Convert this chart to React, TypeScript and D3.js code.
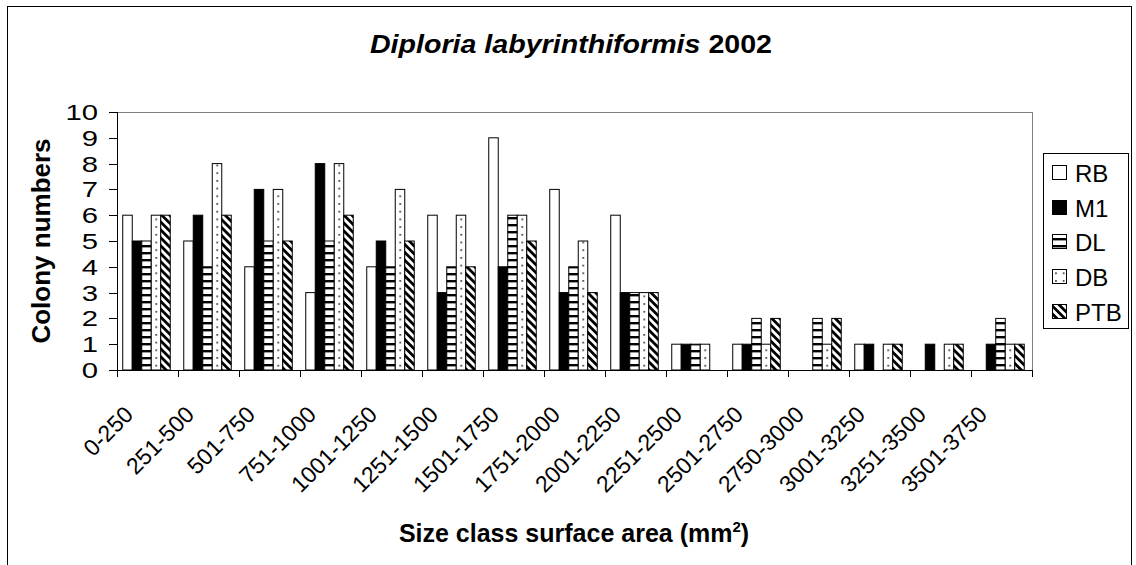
import React from "react";
import * as d3 from "d3";

const categories = ["0-250","251-500","501-750","751-1000","1001-1250","1251-1500","1501-1750","1751-2000","2001-2250","2251-2500","2501-2750","2750-3000","3001-3250","3251-3500","3501-3750"];
const seriesNames = ["RB","M1","DL","DB","PTB"];
const RB = [6,5,4,3,4,6,9,7,6,1,1,0,1,0,0];
const M1 = [5,6,7,8,5,3,4,3,3,1,1,0,1,1,1];
const DL = [5,4,5,5,4,4,6,4,3,1,2,2,0,0,2];
const DB = [6,8,7,8,7,6,6,5,3,1,1,1,1,1,1];
const PTB = [6,6,5,6,5,4,5,3,3,0,2,2,1,1,1];
const yTicks = [0,1,2,3,4,5,6,7,8,9,10];

const seriesValues = [RB, M1, DL, DB, PTB];
const fills = ["#ffffff", "#000000", "url(#pDL)", "url(#pDB)", "url(#pPTB)"];
const FONT = "'Liberation Sans', Arial, Helvetica, sans-serif";

export default function App() {
  const W = 1136, H = 565;
  const left = 117, right = 1032, top = 112, bottom = 370;
  const x = d3.scaleBand().domain(categories).range([left, right]).paddingInner(0).paddingOuter(0);
  const xs = d3.scaleBand().domain(seriesNames).range([0, x.bandwidth()]).paddingInner(0).paddingOuter(0.71);
  const y = d3.scaleLinear().domain([0, 10]).range([bottom, top]);
  const boundaries = categories.map((c) => x(c) as number).concat([right]);
  const legendRows = [173, 208, 242, 277, 312];

  return (
    <svg width={W} height={H} style={{ position: "absolute", left: 0, top: 0, background: "#fff" }} fontFamily={FONT}>
      <defs>
        <pattern id="pDL" patternUnits="userSpaceOnUse" width="8" height="7">
          <rect width="8" height="7" fill="#fff" />
          <rect y="0" width="8" height="2.4" fill="#000" />
        </pattern>
        <pattern id="pDB" patternUnits="userSpaceOnUse" width={61 / 8} height="7.7">
          <rect width={61 / 8} height="7.7" fill="#fff" />
          <rect x="3" y="3" width="1.5" height="1.5" fill="#000" />
        </pattern>
        <pattern id="pPTB" patternUnits="userSpaceOnUse" width="5.6" height="5.6" patternTransform="rotate(-45)">
          <rect width="5.6" height="5.6" fill="#fff" />
          <rect x="0" width="2.8" height="5.6" fill="#000" />
        </pattern>
      </defs>
      <rect x={0} y={0} width={W} height={H} fill="#fff" />
      <rect x={7.5} y={6.5} width={1124} height={570} fill="none" stroke="#000" strokeWidth={1} />

      <text transform="translate(571 53) scale(1.1 1)" textAnchor="middle" fontSize={26} fontWeight="bold">
        <tspan fontStyle="italic">Diploria labyrinthiformis</tspan>
        <tspan> 2002</tspan>
      </text>

      {/* plot frame */}
      <line x1={left} x2={right} y1={top + 0.5} y2={top + 0.5} stroke="#808080" />
      <line x1={right + 0.5} x2={right + 0.5} y1={top} y2={bottom} stroke="#808080" />

      {/* bars */}
      {seriesValues.map((vals, si) =>
        vals.map((v, ci) =>
          v > 0 ? (
            <rect
              key={`${si}-${ci}`}
              x={(x(categories[ci]) as number) + (xs(seriesNames[si]) as number) - 1}
              y={y(v)}
              width={xs.bandwidth()}
              height={y(0) - y(v)}
              fill={fills[si]}
              stroke="#000"
              strokeWidth={1}
            />
          ) : null
        )
      )}

      {/* axes */}
      <line x1={left + 0.5} x2={left + 0.5} y1={top} y2={bottom + 7} stroke="#000" />
      <line x1={left} x2={right} y1={bottom + 0.5} y2={bottom + 0.5} stroke="#000" />
      {boundaries.map((b, i) => (
        <line key={i} x1={b + 0.5} x2={b + 0.5} y1={bottom} y2={bottom + 7} stroke="#000" />
      ))}
      {yTicks.map((t) => (
        <g key={t}>
          <line x1={left - 8} x2={left} y1={Math.round(y(t)) + 0.5} y2={Math.round(y(t)) + 0.5} stroke="#000" />
          <text transform={`translate(98 ${y(t)}) scale(1.33 1)`} dy="0.36em" textAnchor="end" fontSize={22}>{t}</text>
        </g>
      ))}
      {categories.map((c) => {
        const cx = (x(c) as number) + x.bandwidth() / 2;
        const px = cx - 13, py = 416;
        return (
          <text key={c} x={px} y={py} textAnchor="end" fontSize={23} transform={`rotate(-45 ${px} ${py})`}>{c}</text>
        );
      })}

      <text transform={`translate(50 ${(top + bottom) / 2}) rotate(-90)`} textAnchor="middle" fontSize={26} fontWeight="bold">Colony numbers</text>
      <text x={574} y={542} textAnchor="middle" fontSize={25} fontWeight="bold">
        Size class surface area (mm<tspan fontSize={15} dy={-10}>2</tspan><tspan dy={10}>)</tspan>
      </text>

      {/* legend */}
      <rect x={1043.5} y={153.5} width={85} height={175} fill="#fff" stroke="#000" />
      {seriesNames.map((s, i) => (
        <g key={s}>
          <rect x={1052.5} y={legendRows[i] - 7.5} width={14} height={14} fill={fills[i]} stroke="#000" />
          <text x={1075} y={legendRows[i]} dy="0.36em" fontSize={24}>{s}</text>
        </g>
      ))}
    </svg>
  );
}
